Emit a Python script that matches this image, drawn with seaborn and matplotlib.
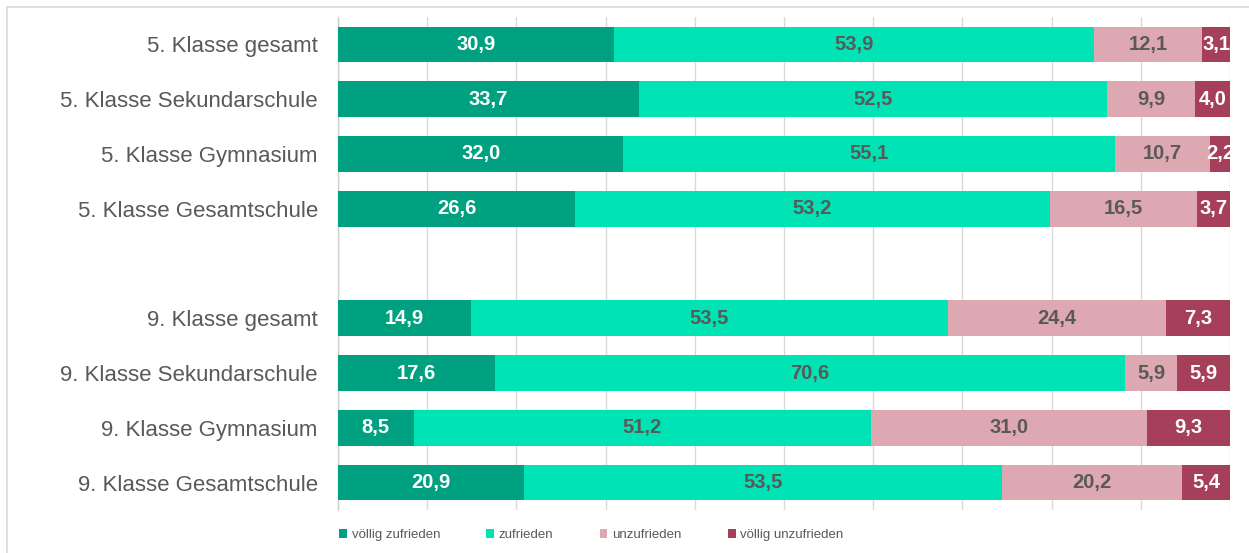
import seaborn as sns
import matplotlib.pyplot as plt
import pandas as pd
from matplotlib import font_manager
from matplotlib.patches import Patch, Rectangle

# data
categories = ["5. Klasse gesamt", "5. Klasse Sekundarschule", "5. Klasse Gymnasium",
              "5. Klasse Gesamtschule",
              "9. Klasse gesamt", "9. Klasse Sekundarschule", "9. Klasse Gymnasium",
              "9. Klasse Gesamtschule"]
gap_label = " "
voellig_zufrieden = [30.9, 33.7, 32.0, 26.6, 14.9, 17.6, 8.5, 20.9]
zufrieden = [53.9, 52.5, 55.1, 53.2, 53.5, 70.6, 51.2, 53.5]
unzufrieden = [12.1, 9.9, 10.7, 16.5, 24.4, 5.9, 31.0, 20.2]
voellig_unzufrieden = [3.1, 4.0, 2.2, 3.7, 7.3, 5.9, 9.3, 5.4]
series_names = ["völlig zufrieden", "zufrieden", "unzufrieden", "völlig unzufrieden"]

colors = ["#00A181", "#00E3B5", "#DDA8B1", "#A6405A"]
text_colors = ["white", "#595959", "#595959", "white"]

sns.set_theme(style="white")
plt.rcParams['font.family'] = ['Liberation Sans', 'DejaVu Sans']

# legend text in the original looks condensed
installed = {f.name for f in font_manager.fontManager.ttflist}
if "Liberation Sans Narrow" in installed:
    legend_font = {"family": "Liberation Sans Narrow", "size": 11.5}
    col_space = 2.9
else:
    legend_font = {"family": "Liberation Sans", "size": 9.5}
    col_space = 3.5

df = pd.DataFrame({"cat": categories,
                   series_names[0]: voellig_zufrieden,
                   series_names[1]: zufrieden,
                   series_names[2]: unzufrieden,
                   series_names[3]: voellig_unzufrieden})
cum = df[series_names].cumsum(axis=1)
order = categories[:4] + [gap_label] + categories[4:]

fig = plt.figure(figsize=(12.49, 5.53), dpi=100)
ax = fig.add_axes([338 / 1249, 1 - 510 / 553, (1230 - 338) / 1249, (510 - 17) / 553])

# stacked bars: draw cumulative totals back to front
for i in range(3, -1, -1):
    sns.barplot(x=cum[series_names[i]], y=df["cat"], order=order, orient="h",
                color=colors[i], saturation=1, width=0.65, linewidth=0, ax=ax, zorder=3)

# value labels
pos = {c: order.index(c) for c in categories}
for i, name in enumerate(series_names):
    for j, c in enumerate(categories):
        v = df[name][j]
        start = cum[name][j] - v
        ax.text(start + v / 2, pos[c], f"{v:.1f}".replace(".", ","),
                ha="center", va="center", fontsize=14.5, fontweight="bold",
                color=text_colors[i], zorder=5)

ax.set_xlim(0, 100)
ax.set_ylim(len(order) - 0.5, -0.5)
ax.set_xticks(range(0, 101, 10))
ax.set_xticklabels([])
ax.tick_params(axis="x", length=0)
ax.tick_params(axis="y", length=0, pad=14.5, labelsize=16, labelcolor="#595959")
ax.grid(axis="x", color="#D9D9D9", linewidth=1, zorder=0)
ax.set_axisbelow(True)
ax.set_xlabel("")
ax.set_ylabel("")
for s in ["top", "right", "bottom"]:
    ax.spines[s].set_visible(False)
ax.spines["left"].set_color("#D0D0D0")
ax.spines["left"].set_linewidth(1)

# outer chart border (top and left)
fig.patches.append(Rectangle((7 / 1249, -0.1), 1.2, 1 - 7 / 553 + 0.1,
                             transform=fig.transFigure, fill=False,
                             edgecolor="#D9D9D9", linewidth=1.2))

handles = [Patch(facecolor=c, edgecolor="none") for c in colors]
fig.legend(handles, series_names, loc="center left",
           bbox_to_anchor=(339 / 1249, 1 - 535 / 553), ncol=4, frameon=False,
           prop=legend_font, handlelength=0.6, handleheight=0.6, handletextpad=0.35,
           columnspacing=col_space, borderpad=0, borderaxespad=0,
           labelcolor="#595959")

fig.savefig("out.png", dpi=100)
